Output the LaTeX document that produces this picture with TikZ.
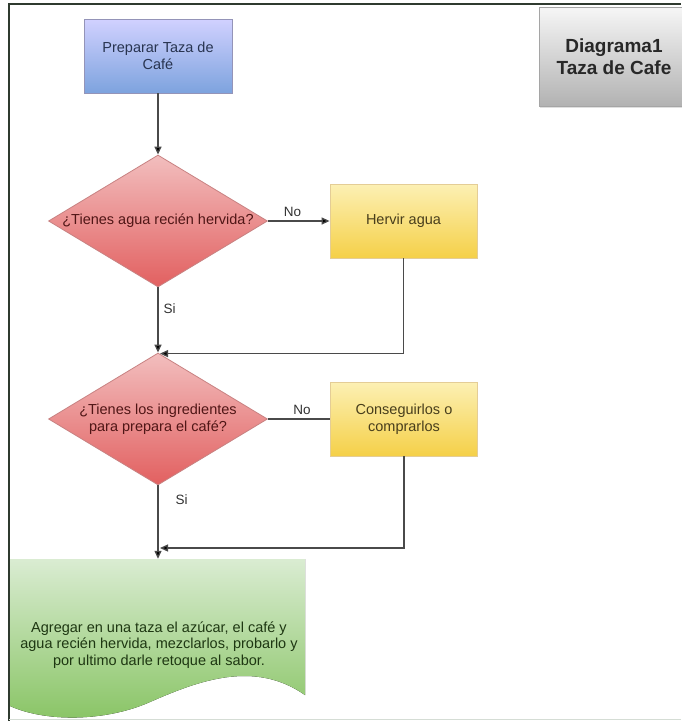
\documentclass[tikz,border=0pt]{standalone}
\usepackage{fontspec}
\setmainfont{Liberation Sans}
\usetikzlibrary{arrows.meta,shapes.geometric,shadows}

\definecolor{linegray}{HTML}{4A4A4A}
\definecolor{framedark}{HTML}{2F3A2F}

\tikzset{
  base/.style={font=\fontsize{14.5}{16.5}\selectfont, align=center, inner sep=0pt},
  startbox/.style={base, rectangle, draw=blue!20!gray!70, line width=0.8pt,
    top color=blue!18!white, bottom color={rgb,255:red,125;green,163;blue,222},
    text={rgb,255:red,40;green,52;blue,80}, minimum width=148pt, minimum height=74pt},
  decision/.style={diamond, draw={rgb,255:red,200;green,130;blue,130}, line width=0.8pt,
    top color={rgb,255:red,242;green,190;blue,190}, bottom color={rgb,255:red,226;green,96;blue,96},
    minimum width=219pt, minimum height=132pt, inner sep=0pt},
  dectext/.style={base, text={rgb,255:red,80;green,22;blue,22}},
  actbox/.style={base, rectangle, draw={rgb,255:red,228;green,205;blue,150}, line width=0.8pt,
    top color={rgb,255:red,252;green,240;blue,180}, bottom color={rgb,255:red,245;green,208;blue,72},
    text={rgb,255:red,72;green,62;blue,28}, minimum width=147pt, minimum height=74pt},
  titlebox/.style={rectangle, draw={rgb,255:red,165;green,165;blue,165}, line width=0.8pt,
    top color={rgb,255:red,246;green,246;blue,246}, bottom color={rgb,255:red,178;green,178;blue,178},
    drop shadow={shadow xshift=1pt, shadow yshift=-2pt, opacity=0.25},
    font=\fontsize{19}{22}\selectfont\bfseries, text={rgb,255:red,40;green,40;blue,40},
    align=center, minimum width=150pt, minimum height=99pt, inner sep=0pt},
  flow/.style={draw=linegray, line width=1.3pt, -{Triangle[length=8pt,width=7pt,fill=black]}},
  plainflow/.style={draw=linegray, line width=1.3pt},
  branch/.style={font=\fontsize{13.5}{15}\selectfont, text={rgb,255:red,50;green,50;blue,50}, inner sep=0pt},
}

\begin{document}
\begin{tikzpicture}[x=1pt,y=-1pt]
  \useasboundingbox (0,0) rectangle (681,721);
  \fill[white] (0,0) rectangle (681,721);

  % frame of the drawing sheet
  \draw[framedark, line width=2pt] (9,721) -- (9,4) -- (681,4);
  \draw[green!10!gray!30, line width=1pt] (9,719.5) -- (681,719.5);

  % title block
  \node[titlebox] (title) at (614,56.5) {Diagrama1\\Taza de Cafe};

  % start
  \node[startbox] (prep) at (158,56) {Preparar Taza de\\Café};

  % first decision
  \node[decision, label={[dectext]center:¿Tienes agua recién hervida?}] (d1) at (158,221) {};
  \node[actbox] (hervir) at (403.5,221) {Hervir agua};

  % second decision
  \node[decision, label={[dectext]center:¿Tienes los ingredientes\\para prepara el café?}] (d2) at (158,419) {};
  \node[actbox] (consig) at (404,419) {Conseguirlos o\\comprarlos};

  % final document shape
  \fill[top color={rgb,255:red,218;green,236;blue,210}, bottom color={rgb,255:red,136;green,196;blue,100}]
    (10,559) -- (305,559) -- (305,695)
    .. controls (255,660) and (200,680) .. (150,702)
    .. controls (105,722) and (45,722) .. (10,706) -- cycle;
  \node[minimum width=296pt, minimum height=136pt, inner sep=0pt] (doc) at (158,627) {};
  \node[base, text={rgb,255:red,30;green,55;blue,18}] (doctext) at (159,645)
    {Agregar en una taza el azúcar, el café y\\agua recién hervida, mezclarlos, probarlo y\\por ultimo darle retoque al sabor.};

  % connectors
  \coordinate (join2) at (158,548);
  \draw[flow] (prep) -- (d1);
  \draw[flow] (d1.east) -- node[branch, above=4pt, pos=0.4] {No} (hervir.west);
  \draw[flow] (d1.south) -- node[branch, right=5pt, pos=0.32] {Si} (d2.north);
  \draw[flow] (hervir.south) |- ([xshift=2pt,yshift=-1pt]d2.north);
  \draw[plainflow] (d2.east) -- node[branch, above=4pt, pos=0.55] {No} (consig.west);
  \draw[flow] (d2.south) -- node[branch, right=17pt, pos=0.2] {Si} (doc.north);
  \draw[flow] (consig.south) |- ([xshift=2pt]join2);
\end{tikzpicture}
\end{document}
